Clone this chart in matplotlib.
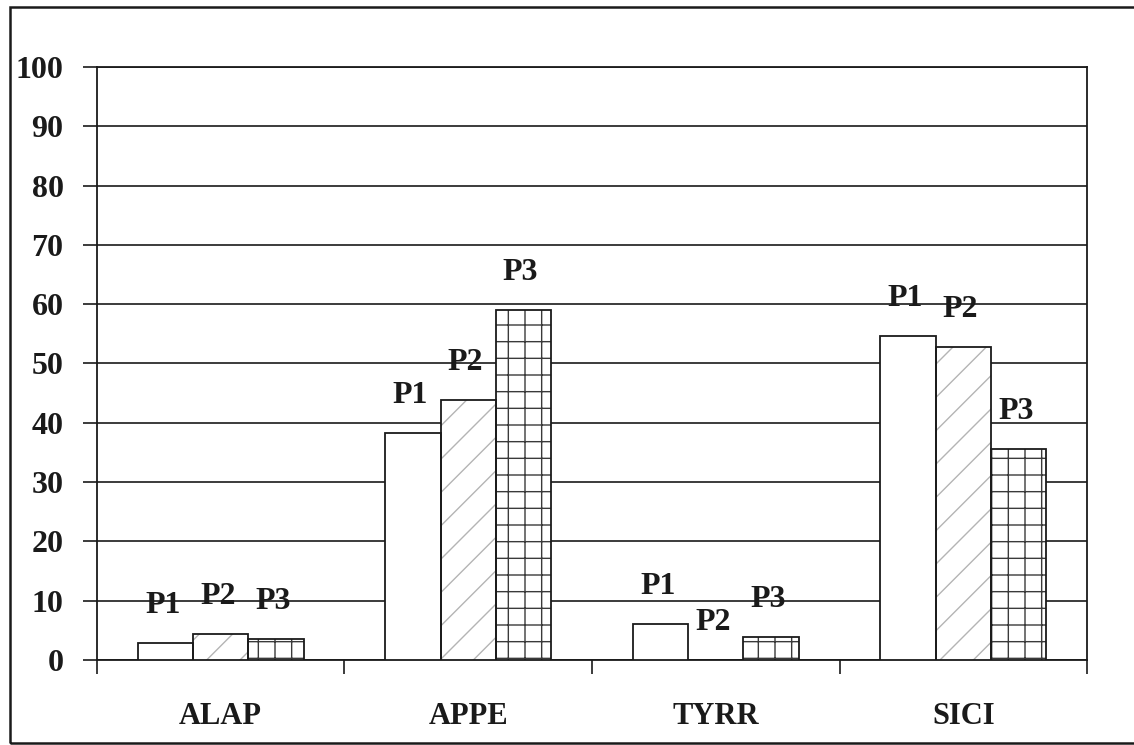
import matplotlib

matplotlib.use("Agg")
import matplotlib.pyplot as plt
import numpy as np
from matplotlib.patches import Rectangle

# grouped values, one list per series
categories = ["ALAP", "APPE", "TYRR", "SICI"]
series_names = ["P1", "P2", "P3"]
p1 = [2.8, 38.2, 6.0, 54.7]
p2 = [4.3, 43.9, 0.0, 52.7]
p3 = [3.6, 59.0, 3.9, 35.6]
yticks = list(range(0, 101, 10))

plt.rcParams["font.family"] = ["Liberation Serif", "DejaVu Serif"]
plt.rcParams["font.weight"] = "bold"
plt.rcParams["hatch.linewidth"] = 1.0

INK = "#1a1a1a"

fig = plt.figure(figsize=(11.34, 7.45), dpi=100)
ax = fig.add_axes([0.0855, 0.1141, 0.8731, 0.7960])

# outer frame around the whole chart
fig.patches.append(Rectangle((10 / 1134, 2 / 745), 1.2, 736 / 745, transform=fig.transFigure,
                             fill=False, edgecolor=INK, linewidth=1.8, clip_on=False))

x = np.arange(len(categories)) + 0.5
w = 0.223
styles = [
    dict(hatch=None, hatch_color="white"),
    dict(hatch="/", hatch_color="#b4b4b4"),
    dict(hatch="+", hatch_color="#3a3a3a"),
]

for i, (vals, st) in enumerate(zip([p1, p2, p3], styles)):
    xs = x + (i - 1) * w
    # hatch layer, then a plain outline on top
    ax.bar(xs, vals, width=w, color="white", edgecolor=st["hatch_color"],
           hatch=st["hatch"], linewidth=0, zorder=3)
    ax.bar(xs, vals, width=w, fill=False, edgecolor=INK, linewidth=1.3, zorder=4)
    for xi, v in zip(xs, vals):
        ax.annotate(series_names[i], (xi, v), xytext=(-2, 27), textcoords="offset points",
                    ha="center", va="center", fontsize=23, color=INK, zorder=5)

ax.set_xlim(0, len(categories))
ax.set_ylim(0, 100)
ax.set_yticks(yticks)
ax.set_yticklabels([str(t) for t in yticks], fontsize=23, color=INK)
ax.yaxis.grid(True, color=INK, linewidth=1.2)
ax.set_axisbelow(True)

ax.set_xticks(np.arange(len(categories) + 1))
ax.set_xticklabels([])
ax.set_xticks(x, minor=True)
ax.set_xticklabels(categories, minor=True, fontsize=22, color=INK)
ax.tick_params(axis="x", which="major", direction="out", length=10, width=1.2, color=INK)
ax.tick_params(axis="x", which="minor", length=0, pad=30)
ax.tick_params(axis="y", direction="out", length=10, width=1.2, color=INK, pad=14)

for side in ax.spines.values():
    side.set_color(INK)
    side.set_linewidth(1.3)

fig.savefig("out.png", dpi=100)
